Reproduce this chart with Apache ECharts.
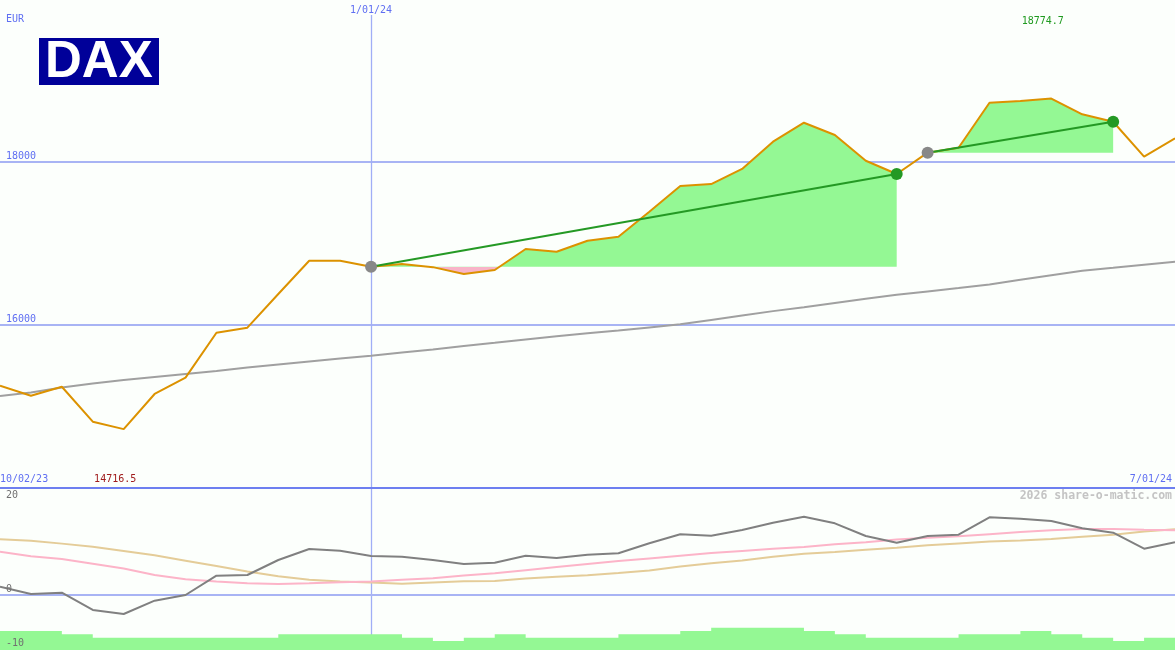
<!DOCTYPE html>
<html><head><meta charset="utf-8">
<script src="https://cdn.jsdelivr.net/npm/echarts@6/dist/echarts.min.js"></script>
<style>html,body{margin:0;padding:0;background:#fcfffc}#c{width:1175px;height:650px}</style>
</head><body><div id="c"></div>
<script>
// ---- data (weekly points, index 0..38) ----
const dateLabels = ['10/02/23', '1/01/24', '7/01/24'];
const markerIndex = 12;
const priceTicks = [16000, 18000];
const oscTopTick = 20;
const oscLowTicks = [0, -10];
const price = [15250,15127,15237,14808,14716.5,15148,15348,15900,15962,16375,16784,16784,16710,
  16743,16705,16621,16670,16928,16894,17029,17079,17385,17701,17725,17910,18245,
  18478,18327,18011,17848,18110,18171,18723,18744,18774.7,18581,18490,18061,18286];
const movingAvg = [15123,15166,15228,15277,15320,15356,15393,15430,15473,15510,15547,15584,15617,
  15657,15694,15736,15776,15818,15856,15893,15926,15965,16003,16057,16111,16165,
  16212,16265,16318,16365,16407,16448,16493,16550,16605,16660,16697,16735,16772];
const oscGray = [1.5,0.13,0.37,-2.87,-3.62,-1.13,-0.06,3.56,3.69,6.5,8.56,8.24,7.25,
  7.12,6.5,5.75,6.0,7.31,6.88,7.5,7.76,9.63,11.32,11.06,12.13,13.5,
  14.62,13.38,11.0,9.75,11.0,11.25,14.5,14.25,13.81,12.44,11.62,8.62,9.82];
const oscPink = [8.06,7.2,6.7,5.8,4.9,3.69,2.9,2.45,2.15,2.02,2.15,2.35,2.45,
  2.8,3.1,3.6,4.0,4.6,5.2,5.75,6.3,6.8,7.3,7.8,8.2,8.6,
  8.95,9.45,9.85,10.35,10.65,10.95,11.35,11.75,12.1,12.3,12.3,12.15,12.1];
const oscTan = [10.4,10.1,9.57,9.0,8.2,7.38,6.37,5.36,4.36,3.44,2.81,2.45,2.26,
  2.05,2.3,2.5,2.55,3.05,3.35,3.65,4.05,4.55,5.3,5.9,6.4,7.1,
  7.65,8.0,8.4,8.8,9.25,9.6,9.95,10.15,10.45,10.85,11.25,11.85,12.25];
const volume = [5.7,5.7,4.7,3.7,3.7,3.7,3.7,3.7,3.7,4.7,4.7,4.7,4.7,3.7,2.7,3.7,4.7,3.7,3.7,
  3.7,4.7,4.7,5.7,6.7,6.7,6.7,5.7,4.7,3.7,3.7,3.7,4.7,4.7,5.7,4.7,3.7,2.7,3.7];
const trendSegments = [[12, 29], [30, 36]];

// ---- helpers ----
const pts = (arr, a, b) => arr.map((v, i) => [i, v]).filter(p => p[0] >= a && p[0] <= b);
const lastIdx = price.length - 1;
const FONT = 'DejaVu Sans Mono';
const BLUE = '#5f6ff2';
const GREEN_FILL = '#94f894';
const PINK_FILL = '#f8b4c8';
const TREND = '#249924';
const GRIDLINE = '#a8b4f4';
const VLINE = '#a0aef6';
const Y0MIN = 14000, Y0MAX = 19800;

const seg1 = trendSegments[0], seg2 = trendSegments[1];
const base1 = price[seg1[0]], base2 = price[seg2[0]];
const volPts = volume.map((v, i) => [i, v]).concat([[lastIdx, volume[volume.length - 1]]]);

const trendSeries = (seg) => ({
  type: 'line', xAxisIndex: 0, yAxisIndex: 0, z: 6,
  data: [
    {value: [seg[0], price[seg[0]]], itemStyle: {color: '#888888'}},
    {value: [seg[1], price[seg[1]]], itemStyle: {color: TREND}}
  ],
  symbol: 'circle', symbolSize: 12, showSymbol: true,
  lineStyle: {color: TREND, width: 2}, itemStyle: {color: TREND, borderWidth: 0},
  silent: true
});

function buildOption(useVisualMap) {
  const fillSeries = useVisualMap ? [
    {type: 'line', xAxisIndex: 0, yAxisIndex: 0, z: 1, data: pts(price, seg1[0], seg1[1]),
     showSymbol: false, lineStyle: {width: 0, opacity: 0},
     areaStyle: {origin: base1, opacity: 1}, silent: true}
  ] : [
    {type: 'line', xAxisIndex: 0, yAxisIndex: 0, z: 1,
     data: pts(price, seg1[0], seg1[1]).map(p => [p[0], Math.max(p[1], base1)]),
     showSymbol: false, lineStyle: {width: 0, opacity: 0},
     areaStyle: {origin: base1, color: GREEN_FILL, opacity: 1}, silent: true},
    {type: 'line', xAxisIndex: 0, yAxisIndex: 0, z: 1,
     data: pts(price, seg1[0], seg1[1]).map(p => [p[0], Math.min(p[1], base1)]),
     showSymbol: false, lineStyle: {width: 0, opacity: 0},
     areaStyle: {origin: base1, color: PINK_FILL, opacity: 1}, silent: true}
  ];
  const opt = {
    backgroundColor: '#fcfffc',
    animation: false,
    textStyle: {fontFamily: FONT},
    grid: [
      {left: 0, right: 0, top: 15, height: 472.5, outerBoundsMode: 'none', containLabel: false},
      {left: 0, right: 0, top: 488, height: 160, outerBoundsMode: 'none', containLabel: false},
      {left: 0, right: 0, top: 620, height: 30, outerBoundsMode: 'none', containLabel: false}
    ],
    xAxis: [
      {gridIndex: 0, type: 'value', min: 0, max: lastIdx, interval: lastIdx,
       axisLine: {show: true, lineStyle: {color: '#6d7ff0', width: 2}},
       axisTick: {show: false}, splitLine: {show: false},
       axisLabel: {inside: true, margin: 3, color: BLUE, fontSize: 10, fontFamily: FONT,
         alignMinLabel: 'left', alignMaxLabel: 'right',
         formatter: v => v === 0 ? dateLabels[0] : (v === lastIdx ? '{r|' + dateLabels[2] + '}' : ''),
         rich: {r: {color: BLUE, fontSize: 10, fontFamily: FONT, padding: [0, 3, 0, 0]}}}},
      {gridIndex: 1, type: 'value', min: 0, max: lastIdx, interval: lastIdx,
       axisLine: {show: true, onZero: true, lineStyle: {color: GRIDLINE, width: 2}},
       axisTick: {show: false}, axisLabel: {show: false}, splitLine: {show: false}},
      {gridIndex: 2, type: 'value', min: 0, max: lastIdx, show: false}
    ],
    yAxis: [
      {gridIndex: 0, type: 'value', position: 'left', min: Y0MIN, max: Y0MAX, interval: 2000,
       axisLine: {show: false}, axisTick: {show: false},
       splitLine: {show: true, lineStyle: {width: 2, color: ['rgba(0,0,0,0)', GRIDLINE, GRIDLINE, 'rgba(0,0,0,0)']}},
       axisLabel: {inside: true, margin: 6, color: BLUE, fontSize: 10, fontFamily: FONT,
         verticalAlign: 'bottom', showMinLabel: false, showMaxLabel: false,
         formatter: v => priceTicks.includes(v) ? String(v) : ''}},
      {gridIndex: 1, type: 'value', position: 'left', min: -10, max: 20, interval: 10, z: 20,
       axisLine: {show: false, onZero: false}, axisTick: {show: false}, splitLine: {show: false},
       axisLabel: {inside: true, margin: 6, color: '#707070', fontSize: 10, fontFamily: FONT,
         verticalAlign: 'bottom',
         formatter: v => oscLowTicks.includes(v) ? String(v) : ''}},
      {gridIndex: 2, type: 'value', min: 0, max: 9, show: false},
      {gridIndex: 1, type: 'value', position: 'left', offset: 0, min: -10, max: 20, interval: 10, z: 20,
       axisLine: {show: false, onZero: false}, axisTick: {show: false}, splitLine: {show: false},
       axisLabel: {inside: true, margin: 6, color: '#707070', fontSize: 10, fontFamily: FONT,
         verticalAlign: 'top', lineHeight: 15,
         formatter: v => v === oscTopTick ? String(v) : ''}}
    ],
    graphic: [
      {type: 'rect', left: 39, top: 38, shape: {width: 120, height: 47}, style: {fill: '#000099'}, z: 10},
      {type: 'text', left: 45, top: 37, z: 11,
       style: {text: 'DAX', fill: '#ffffff', font: 'bold 51px "Liberation Sans", Arial, sans-serif'}},
      {type: 'text', left: 6, top: 14, z: 11, style: {text: 'EUR', fill: BLUE, font: '10px "DejaVu Sans Mono"'}},
      {type: 'text', right: 3, top: 490, z: 11,
       style: {text: '2026 share-o-matic.com', fill: '#c4c4c4', font: 'bold 11.5px "DejaVu Sans Mono"'}}
    ],
    series: fillSeries.concat([
      {type: 'line', xAxisIndex: 0, yAxisIndex: 0, z: 1, data: pts(price, seg2[0], seg2[1]),
       showSymbol: false, lineStyle: {width: 0, opacity: 0},
       areaStyle: {origin: base2, color: GREEN_FILL, opacity: 1}, silent: true},
      {type: 'line', xAxisIndex: 0, yAxisIndex: 0, z: 3, data: movingAvg.map((v, i) => [i, v]),
       showSymbol: false, lineStyle: {color: '#a0a0a0', width: 2},
       markLine: {silent: true, symbol: 'none', z: 0,
         lineStyle: {color: VLINE, width: 1.3, type: 'solid'},
         label: {show: true, position: 'end', distance: 0, formatter: dateLabels[1], color: BLUE, fontSize: 10, fontFamily: FONT},
         data: [{xAxis: markerIndex}]}},
      {type: 'line', xAxisIndex: 0, yAxisIndex: 0, z: 4, data: price.map((v, i) => [i, v]),
       showSymbol: false, lineStyle: {color: '#dc9200', width: 2}},
      trendSeries(seg1),
      trendSeries(seg2),
      {type: 'line', xAxisIndex: 1, yAxisIndex: 1, z: 3, data: oscTan.map((v, i) => [i, v]),
       showSymbol: false, lineStyle: {color: '#e4cc98', width: 2},
       markLine: {silent: true, symbol: 'none', z: 0,
         lineStyle: {color: VLINE, width: 1.3, type: 'solid'}, label: {show: false},
         data: [{xAxis: markerIndex}]}},
      {type: 'line', xAxisIndex: 1, yAxisIndex: 1, z: 3, data: oscPink.map((v, i) => [i, v]),
       showSymbol: false, lineStyle: {color: '#fcb4c8', width: 2}},
      {type: 'line', xAxisIndex: 1, yAxisIndex: 1, z: 4, data: oscGray.map((v, i) => [i, v]),
       showSymbol: false, lineStyle: {color: '#808080', width: 2}},
      {type: 'line', xAxisIndex: 2, yAxisIndex: 2, z: 5, data: volPts, step: 'end',
       showSymbol: false, lineStyle: {width: 0, opacity: 0},
       areaStyle: {color: GREEN_FILL, opacity: 1, origin: 'start'}, silent: true}
    ])
  };
  if (useVisualMap) {
    opt.visualMap = [{
      type: 'piecewise', show: false, seriesIndex: 0, dimension: 1,
      pieces: [{gte: Y0MIN, lt: base1, color: PINK_FILL}, {gte: base1, lte: Y0MAX, color: GREEN_FILL}],
      outOfRange: {color: GREEN_FILL}
    }];
  }
  return opt;
}

let chart = echarts.init(document.getElementById('c'), null, {renderer: 'canvas'});
let option = buildOption(true);
try {
  chart.setOption(option);
} catch (e) {
  chart.dispose();
  chart = echarts.init(document.getElementById('c'), null, {renderer: 'canvas'});
  option = buildOption(false);
  chart.setOption(option);
}

// min / max labels positioned through the chart's own scale
const maxV = Math.max(...price), minV = Math.min(...price);
const maxI = price.indexOf(maxV), minI = price.indexOf(minV);
const xMax = chart.convertToPixel({xAxisIndex: 0}, maxI);
const xMin = chart.convertToPixel({xAxisIndex: 0}, minI);
chart.setOption({graphic: option.graphic.concat([
  {type: 'text', x: xMax - 8.5, y: 21, z: 11,
   style: {text: maxV.toFixed(1), fill: '#1f9a1f', font: '10px "DejaVu Sans Mono"', align: 'center', verticalAlign: 'middle'}},
  {type: 'text', x: xMin - 8.5, y: 479, z: 11,
   style: {text: minV.toFixed(1), fill: '#a01c1c', font: '10px "DejaVu Sans Mono"', align: 'center', verticalAlign: 'middle'}}
])});
</script>
</body></html>
